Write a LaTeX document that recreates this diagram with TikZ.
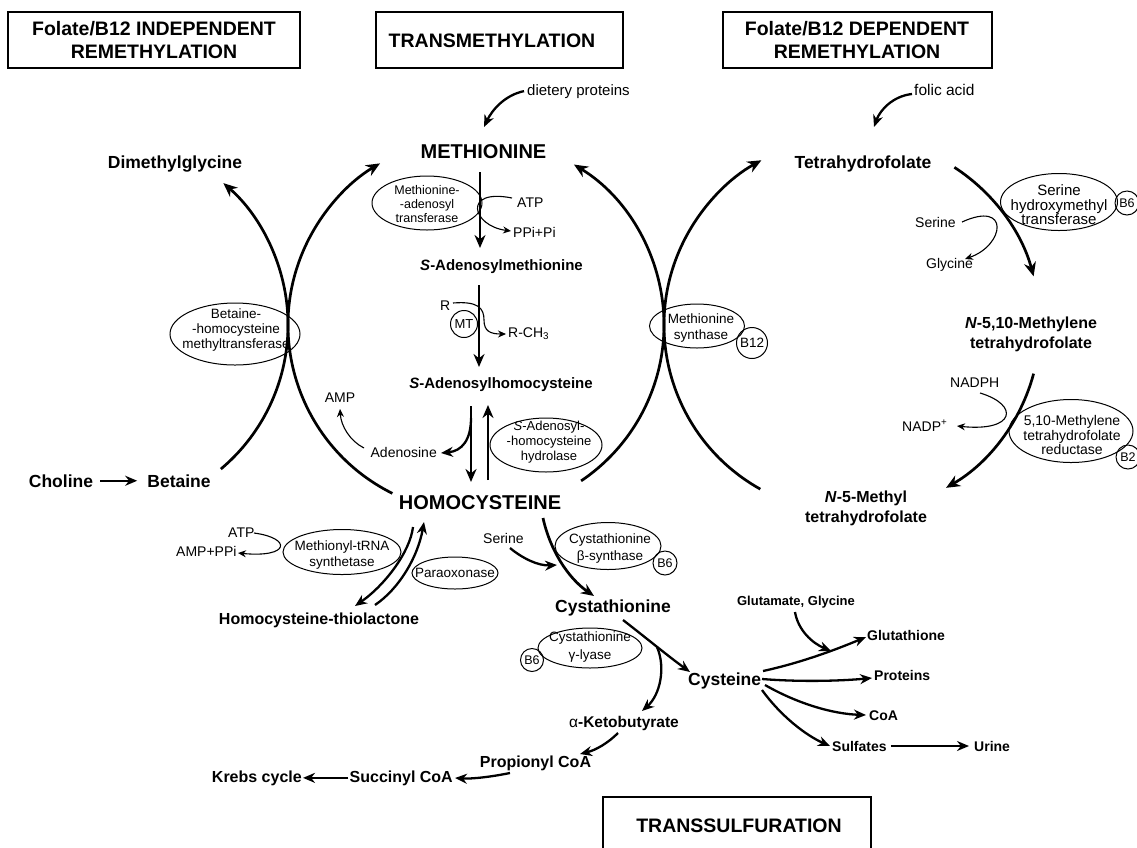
\documentclass[tikz,border=0pt]{standalone}
\usepackage{fontspec}
\setmainfont{Liberation Sans}
\usetikzlibrary{arrows.meta,shapes.geometric,calc}
\newcommand\fsz[2]{\fontsize{#1}{#2}\selectfont}
\begin{document}
\begin{tikzpicture}[x=1pt,y=1pt,
  boxl/.style={line width=1.1pt},
  hdrt/.style={inner sep=0pt,align=center,font=\fsz{19.5}{23}\bfseries},
  big/.style={inner sep=0pt,font=\fsz{20}{24}\bfseries},
  cmpL/.style={inner sep=0pt,font=\fsz{17.5}{21}\bfseries},
  cmpM/.style={inner sep=0pt,font=\fsz{16}{20}\bfseries},
  cmpS/.style={inner sep=0pt,font=\fsz{15}{18}\bfseries},
  prod/.style={inner sep=0pt,font=\fsz{14}{17}\bfseries},
  sm/.style={inner sep=0pt,font=\fsz{14}{17}},
  enz/.style={draw,ellipse,line width=1pt,inner sep=0pt},
  enzt/.style={inner sep=0pt,align=center},
  cof/.style={draw,circle,line width=1pt,inner sep=0pt,font=\fsz{12.5}{14}},
  cycarr/.style={line width=2.7pt,-{Stealth[length=14pt,width=12pt]}},
  thk/.style={line width=2.7pt,-{Stealth[length=13pt,width=11pt]}},
  med/.style={line width=2.3pt,-{Stealth[length=12pt,width=10pt]}},
  thn/.style={line width=1.1pt,-{Stealth[length=8pt,width=7pt]}}
]
\useasboundingbox (0,0) rectangle (1137,-847);

% ---------- header boxes ----------
\draw[boxl] (8,-12) rectangle (300,-68);
\node[hdrt] (hA) at (154,-40) {Folate/B12 INDEPENDENT\\REMETHYLATION};
\draw[boxl] (376,-12) rectangle (623,-68);
\node[hdrt] (hB) at (492,-41) {TRANSMETHYLATION};
\draw[boxl] (723,-12) rectangle (992,-68);
\node[hdrt] (hC) at (857,-40) {Folate/B12 DEPENDENT\\REMETHYLATION};
\draw[boxl] (603,-852) |- (871,-797) -- (871,-852);
\node[hdrt] (hD) at (739,-826) {TRANSSULFURATION};

% ---------- transmethylation ----------
\node[sm,font=\fsz{15}{18},anchor=base west] (dp) at (527,-95) {dietery proteins};
\node[big,anchor=base] (met) at (483.5,-158) {METHIONINE};
\node[enz,minimum width=110,minimum height=54] (mat) at (427,-203) {};
\node[enzt,font=\fsz{12.5}{14}] (matt) at (427,-204.5) {Methionine-\\-adenosyl\\transferase};
\node[sm,anchor=base west] (atpA) at (517,-207) {ATP};
\node[sm,anchor=base west] (ppi) at (513,-237) {PPi+Pi};
\node[cmpS,anchor=base] (sam) at (501.5,-270) {\textit{S}-Adenosylmethionine};
\node[sm,anchor=base west] (rA) at (440,-310) {R};
\node[cof,minimum size=27,font=\fsz{13}{15}] (mt) at (464,-324) {MT};
\node[sm,anchor=base west] (rch) at (508,-337) {R-CH\textsubscript{3}};
\node[cmpS,anchor=base] (sah) at (501,-388) {\textit{S}-Adenosylhomocysteine};
\node[sm,anchor=base east] (ado) at (437,-457) {Adenosine};
\node[sm,anchor=base] (amp) at (340,-402) {AMP};
\node[enz,minimum width=112,minimum height=54] (sahh) at (546,-445) {};
\node[enzt,font=\fsz{13}{15}] (sahht) at (549,-442) {\textit{S}-Adenosyl-\\-homocysteine\\hydrolase};
\node[big,anchor=base] (hcy) at (480,-509) {HOMOCYSTEINE};

% ---------- methionine synthase ----------
\node[enz,minimum width=95,minimum height=44] (ms) at (697,-326) {};
\node[enzt,font=\fsz{13.5}{16}] (mst) at (701,-328) {Methionine\\synthase};
\node[cof,minimum size=31,font=\fsz{13.5}{15}] (b12) at (752,-343) {B12};

% ---------- folate/B12 independent ----------
\node[enz,minimum width=130,minimum height=62] (bhmt) at (235,-334) {};
\node[enzt,font=\fsz{13.5}{15}] (bhmtt) at (236,-330) {Betaine-\\-homocysteine\\methyltransferase};
\node[cmpL,anchor=base] (chol) at (61,-487) {Choline};
\node[cmpL,anchor=base] (bet) at (179,-487) {Betaine};
\node[cmpL,anchor=base] (dmg) at (175,-168) {Dimethylglycine};

% ---------- folate/B12 dependent ----------
\node[cmpL,anchor=base] (thf) at (863,-168) {Tetrahydrofolate};
\node[sm,font=\fsz{15.5}{18},anchor=base west] (fa) at (914,-95) {folic acid};
\node[enz,minimum width=117,minimum height=57] (shmt) at (1059,-202) {};
\node[enzt,font=\fsz{15}{14.5}] (shmtt) at (1059,-205) {Serine\\hydroxymethyl\\transferase};
\node[cof,minimum size=24] (b6a) at (1127,-203) {B6};
\node[sm,anchor=base west] (serA) at (915,-227) {Serine};
\node[sm,anchor=base west] (gly) at (926,-268) {Glycine};
\node[cmpM,align=center] (mthf) at (1031,-334) {\textit{N}-5,10-Methylene\\tetrahydrofolate};
\node[sm,anchor=base west] (nadph) at (950,-387) {NADPH};
\node[sm,anchor=base west] (nadp) at (902,-431) {NADP\textsuperscript{+}};
\node[enz,minimum width=124,minimum height=63] (mthfr) at (1071,-431) {};
\node[enzt,font=\fsz{14}{14.5}] (mthfrt) at (1072,-435) {5,10-Methylene\\tetrahydrofolate\\reductase};
\node[cof,minimum size=24] (b2) at (1128,-457) {B2};
\node[cmpM,align=center] (n5) at (866,-508) {\textit{N}-5-Methyl\\tetrahydrofolate};

% ---------- lower left ----------
\node[sm,anchor=base west] (atpB) at (228,-537) {ATP};
\node[sm,anchor=base west] (amppi) at (176,-556) {AMP+PPi};
\node[enz,minimum width=118,minimum height=45] (mtrs) at (342,-552) {};
\node[enzt,font=\fsz{13.5}{16}] (mtrst) at (342,-555) {Methionyl-tRNA\\synthetase};
\node[enz,minimum width=86,minimum height=32] (parao) at (455,-573) {};
\node[enzt,font=\fsz{13.5}{16}] (paraot) at (455,-573) {Paraoxonase};
\node[cmpM,anchor=base] (hctl) at (319,-624) {Homocysteine-thiolactone};

% ---------- transsulfuration ----------
\node[sm,anchor=base west] (serB) at (483,-543) {Serine};
\node[enz,minimum width=106,minimum height=47] (cbs) at (608,-546) {};
\node[enzt,font=\fsz{13.5}{17}] (cbst) at (610,-548) {Cystathionine\\β-synthase};
\node[cof,minimum size=24] (b6b) at (665,-563) {B6};
\node[cmpL,anchor=base] (cysta) at (613,-612) {Cystathionine};
\node[enz,minimum width=104,minimum height=40] (cgl) at (590,-648) {};
\node[enzt,font=\fsz{13.5}{17.5}] (cglt) at (590,-647) {Cystathionine\\γ-lyase};
\node[cof,minimum size=23] (b6c) at (532,-660) {B6};
\node[cmpL,anchor=base west] (cys) at (688,-685) {Cysteine};
\node[cmpS,font=\fsz{15.5}{18}\bfseries,anchor=base] (akb) at (624,-727) {{\mdseries α}-Ketobutyrate};
\node[cmpM,anchor=base] (prop) at (535.5,-767) {Propionyl CoA};
\node[cmpM,anchor=base east] (succ) at (453,-782) {Succinyl CoA};
\node[cmpM,anchor=base east] (krebs) at (302,-782) {Krebs cycle};
\node[prod,font=\fsz{13}{15}\bfseries,anchor=base] (gg) at (796,-605) {Glutamate, Glycine};
\node[prod,anchor=base west] (glut) at (867,-640) {Glutathione};
\node[prod,anchor=base west] (prot) at (874,-680) {Proteins};
\node[prod,anchor=base west] (coa) at (869,-720) {CoA};
\node[prod,anchor=base west] (sulf) at (832,-751) {Sulfates};
\node[prod,anchor=base west] (urine) at (974,-751) {Urine};

% ---------- cycle arcs ----------
\coordinate (cM) at (476,-325);
\coordinate (cB) at (100,-325);
\coordinate (cF) at (852,-325);
\draw[cycarr] ($(cM)+(243.6:188)$) arc[start angle=243.6,end angle=120.7,radius=188];
\draw[cycarr] ($(cM)+(-56:188)$) arc[start angle=-56,end angle=58.6,radius=188];
\draw[cycarr] ($(cB)+(-50:188)$) arc[start angle=-50,end angle=49,radius=188];
\draw[cycarr] ($(cF)+(240.8:188)$) arc[start angle=240.8,end angle=118.8,radius=188];
\draw[cycarr] ($(cF)+(57:188)$) arc[start angle=57,end angle=15,radius=188];
\draw[cycarr] ($(cF)+(-15:188)$) arc[start angle=-15,end angle=-60,radius=188];

% ---------- connectors ----------
\draw[med] ([xshift=-3]dp.west) .. controls (505,-95) and (492,-110) .. (484,-127);
\draw[thk] (480,-172) -- (480,-248);
\draw[thn] (512,-198) .. controls (462,-188) and (472,-226) .. (511,-231);
\draw[thk] (479,-285) -- (479,-367);
\draw[thn] (453,-303) .. controls (478,-301) and (484,-308) .. (484,-320) .. controls (484,-331) and (490,-334) .. (506,-334);
\draw[thk] (471,-406) -- (471,-482);
\draw[thk] (488,-480) -- (488,-405);
\draw[med] (471,-418) .. controls (471,-440) and (462,-451) .. (441,-453);
\draw[thn] (364,-448) .. controls (350,-441) and (341,-426) .. (340,-409);
\draw[med] (413,-527) .. controls (410,-552) and (385,-585) .. (355,-606);
\draw[med] (375,-605) .. controls (400,-588) and (418,-556) .. (424,-522);
\draw[thn] (254,-533) .. controls (292,-538) and (290,-558) .. (238,-553);
\draw[med] (510,-548) .. controls (522,-558) and (538,-566) .. (557,-565);
\draw[thk] (543,-518) .. controls (550,-550) and (568,-578) .. (594,-596);
\draw[med] (623,-620) .. controls (645,-637) and (668,-656) .. (690,-672);
\draw[med] (657,-647) .. controls (666,-668) and (660,-695) .. (642,-711);
\draw[med] (618,-733) .. controls (608,-743) and (596,-750) .. (580,-754);
\draw[med] (510,-773) .. controls (490,-777) and (472,-779) .. (455,-778);
\draw[med] ([xshift=-1]succ.west) -- ([xshift=1]krebs.east);
\draw[med] (763,-671) .. controls (800,-663) and (835,-650) .. (866,-637);
\draw[med] (795,-612) .. controls (798,-630) and (812,-643) .. (831,-651);
\draw[med] (762,-679) .. controls (800,-682) and (840,-681) .. (872,-678);
\draw[med] (765,-685) .. controls (800,-705) and (835,-714) .. (866,-715);
\draw[med] (762,-690) .. controls (780,-715) and (805,-735) .. (830,-746);
\draw[med] ([xshift=4]sulf.east) -- ([xshift=-5]urine.west);
\draw[med] ([xshift=7]chol.east) -- ([xshift=-10]bet.west);
\draw[med] (912,-94) .. controls (893,-96) and (880,-110) .. (874,-127);
\draw[thn] (962,-222) .. controls (1010,-200) and (1005,-245) .. (965,-259);
\draw[thn] (980,-393) .. controls (1020,-405) and (1015,-432) .. (957,-426);
\end{tikzpicture}
\end{document}
